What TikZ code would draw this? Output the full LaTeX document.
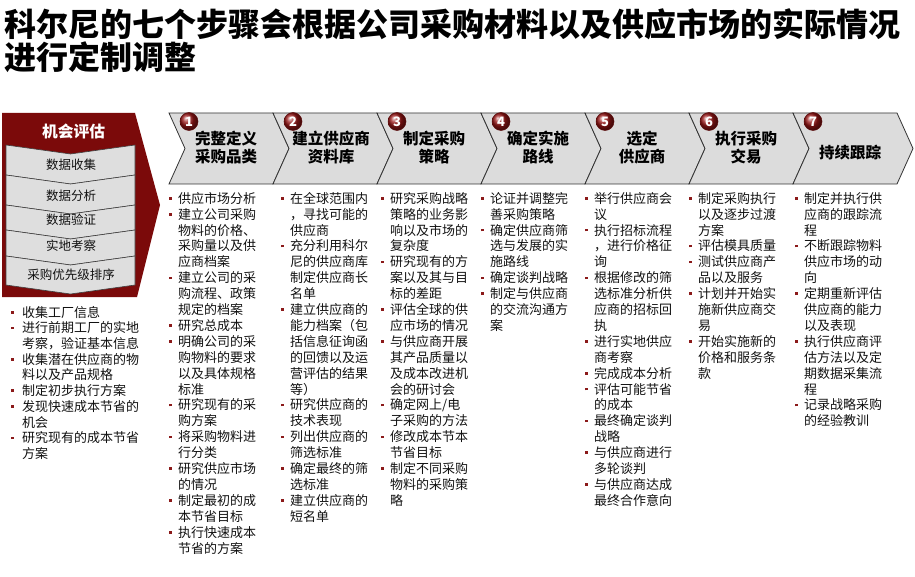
\documentclass[tikz,border=0pt]{standalone}
\usepackage{fontspec}
\setmainfont{Noto Sans CJK SC}
\definecolor{panelred}{HTML}{7B0A0A}
\definecolor{chevgray}{HTML}{DCDCDC}
\definecolor{bandgray}{HTML}{DEDEDE}
\definecolor{bulred}{HTML}{8B1A1A}
\definecolor{numred}{HTML}{9A1616}
\definecolor{txt}{HTML}{111111}
\newcommand\st[1]{\rule{0pt}{#1}}
\newcommand\bpt{\makebox[9pt][l]{\textcolor{bulred}{\rule[3.6pt]{2.6pt}{2.6pt}}}\st{11.5pt}}
\newcommand\cpt{\hspace*{9pt}\st{11.5pt}}
\newcommand\bptL{\makebox[11pt][l]{\textcolor{bulred}{\rule[3.6pt]{2.6pt}{2.6pt}}}\st{11.5pt}}
\newcommand\cptL{\hspace*{11pt}\st{11.5pt}}
\begin{document}
\begin{tikzpicture}[x=1pt,y=-1pt,
  chev/.style={fill=chevgray, draw=black!80, line width=0.8pt, line join=miter},
  band/.style={fill=bandgray, draw=black!75, line width=0.6pt},
  numball/.style={circle, shading=ball, ball color=numred, draw=numred!60!black, line width=0.5pt, text=white,
    font=\bfseries\fontsize{13}{13}\selectfont, inner sep=0pt, minimum size=18pt},
  steplabel/.style={anchor=north, align=center, inner sep=0pt, text=black,
    font=\bfseries\fontsize{15.5}{18}\selectfont},
  bandtext/.style={inner sep=0pt, text=txt, font=\fontsize{12.5}{14}\selectfont},
  col/.style={anchor=north west, align=left, inner sep=0pt, text=txt,
    font=\fontsize{13}{15.9}\selectfont},
  lcol/.style={col, font=\fontsize{13}{15.7}\selectfont}]
\useasboundingbox (0,0) rectangle (915,577);

% title
\node[anchor=north west, align=left, inner sep=0pt, text=black,
  font=\bfseries\fontsize{32}{33}\selectfont] (title) at (4,7.2)
  {\st{29pt}科尔尼的七个步骤会根据公司采购材料以及供应市场的实际情况\\进行定制调整};

% left panel
\fill[panelred] (2,113) -- (135,113) -- (160,205) -- (137,297) -- (2,297) -- cycle;
\node[text=white, inner sep=0pt, font=\bfseries\fontsize{15.75}{16}\selectfont] (ptitle) at (73.5,131.7) {机会评估};
\foreach \a/\b in {145/175,175/205,205/230,230/256,256/285}
  \draw[band] (6,\a) -- (70.5,\a+9) -- (135,\a) -- (135,\b) -- (70.5,\b+9) -- (6,\b) -- cycle;
\node[bandtext] (b1) at (71,165) {数据收集};
\node[bandtext] (b2) at (71,196) {数据分析};
\node[bandtext] (b3) at (71,220) {数据验证};
\node[bandtext] (b4) at (71,245.5) {实地考察};
\node[bandtext] (b5) at (71,275) {采购优先级排序};

% chevrons
\foreach \xo in {169,273,377,481,585,689,793}
  \draw[chev] (\xo,113) -- ++(104,0) -- ++(16,35.5) -- ++(-16,35.5) -- ++(-104,0) -- ++(16,-35.5) -- cycle;
\foreach \i/\xo in {1/169,2/273,3/377,4/481,5/585,6/689,7/793}
  \node[numball] (n\i) at (\xo+20,121.5) {\i};

\node[steplabel] (s1) at (226,130.4) {\st{13.5pt}完整定义\\采购品类};
\node[steplabel] (s2) at (331,130.4) {\st{13.5pt}建立供应商\\资料库};
\node[steplabel] (s3) at (434,130.4) {\st{13.5pt}制定采购\\策略};
\node[steplabel] (s4) at (538,130.4) {\st{13.5pt}确定实施\\路线};
\node[steplabel] (s5) at (642,130.4) {\st{13.5pt}选定\\供应商};
\node[steplabel] (s6) at (746,130.4) {\st{13.5pt}执行采购\\交易};
\node[inner sep=0pt, text=black, font=\bfseries\fontsize{15.5}{18}\selectfont] (s7) at (850,153) {持续跟踪};

% left bullet list
\node[lcol] (l0) at (11,305.4) {\bptL 收集工厂信息\\
\bptL 进行前期工厂的实地\\ \cptL 考察，验证基本信息\\
\bptL 收集潜在供应商的物\\ \cptL 料以及产品规格\\
\bptL 制定初步执行方案\\
\bptL 发现快速成本节省的\\ \cptL 机会\\
\bptL 研究现有的成本节省\\ \cptL 方案};

% column 1
\node[col] (c1) at (169,191.5) {\bpt 供应市场分析\\
\bpt 建立公司采购\\ \cpt 物料的价格、\\ \cpt 采购量以及供\\ \cpt 应商档案\\
\bpt 建立公司的采\\ \cpt 购流程、政策\\ \cpt 规定的档案\\
\bpt 研究总成本\\
\bpt 明确公司的采\\ \cpt 购物料的要求\\ \cpt 以及具体规格\\ \cpt 标准\\
\bpt 研究现有的采\\ \cpt 购方案\\
\bpt 将采购物料进\\ \cpt 行分类\\
\bpt 研究供应市场\\ \cpt 的情况\\
\bpt 制定最初的成\\ \cpt 本节省目标\\
\bpt 执行快速成本\\ \cpt 节省的方案};

% column 2
\node[col] (c2) at (281,191.5) {\bpt 在全球范围内\\ \cpt ，寻找可能的\\ \cpt 供应商\\
\bpt 充分利用科尔\\ \cpt 尼的供应商库\\ \cpt 制定供应商长\\ \cpt 名单\\
\bpt 建立供应商的\\ \cpt 能力档案（包\\ \cpt 括信息征询函\\ \cpt 的回馈以及运\\ \cpt 营评估的结果\\ \cpt 等）\\
\bpt 研究供应商的\\ \cpt 技术表现\\
\bpt 列出供应商的\\ \cpt 筛选标准\\
\bpt 确定最终的筛\\ \cpt 选标准\\
\bpt 建立供应商的\\ \cpt 短名单};

% column 3
\node[col] (c3) at (381,191.5) {\bpt 研究采购战略\\ \cpt 策略的业务影\\ \cpt 响以及市场的\\ \cpt 复杂度\\
\bpt 研究现有的方\\ \cpt 案以及其与目\\ \cpt 标的差距\\
\bpt 评估全球的供\\ \cpt 应市场的情况\\
\bpt 与供应商开展\\ \cpt 其产品质量以\\ \cpt 及成本改进机\\ \cpt 会的研讨会\\
\bpt 确定网上/电\\ \cpt 子采购的方法\\
\bpt 修改成本节本\\ \cpt 节省目标\\
\bpt 制定不同采购\\ \cpt 物料的采购策\\ \cpt 略};

% column 4
\node[col] (c4) at (481,191.5) {\bpt 论证并调整完\\ \cpt 善采购策略\\
\bpt 确定供应商筛\\ \cpt 选与发展的实\\ \cpt 施路线\\
\bpt 确定谈判战略\\
\bpt 制定与供应商\\ \cpt 的交流沟通方\\ \cpt 案};

% column 5
\node[col] (c5) at (585,191.5) {\bpt 举行供应商会\\ \cpt 议\\
\bpt 执行招标流程\\ \cpt ，进行价格征\\ \cpt 询\\
\bpt 根据修改的筛\\ \cpt 选标准分析供\\ \cpt 应商的招标回\\ \cpt 执\\
\bpt 进行实地供应\\ \cpt 商考察\\
\bpt 完成成本分析\\
\bpt 评估可能节省\\ \cpt 的成本\\
\bpt 最终确定谈判\\ \cpt 战略\\
\bpt 与供应商进行\\ \cpt 多轮谈判\\
\bpt 与供应商达成\\ \cpt 最终合作意向};

% column 6
\node[col] (c6) at (689,191.5) {\bpt 制定采购执行\\ \cpt 以及逐步过渡\\ \cpt 方案\\
\bpt 评估模具质量\\
\bpt 测试供应商产\\ \cpt 品以及服务\\
\bpt 计划并开始实\\ \cpt 施新供应商交\\ \cpt 易\\
\bpt 开始实施新的\\ \cpt 价格和服务条\\ \cpt 款};

% column 7
\node[col] (c7) at (795,191.5) {\bpt 制定并执行供\\ \cpt 应商的跟踪流\\ \cpt 程\\
\bpt 不断跟踪物料\\ \cpt 供应市场的动\\ \cpt 向\\
\bpt 定期重新评估\\ \cpt 供应商的能力\\ \cpt 以及表现\\
\bpt 执行供应商评\\ \cpt 估方法以及定\\ \cpt 期数据采集流\\ \cpt 程\\
\bpt 记录战略采购\\ \cpt 的经验教训};
\end{tikzpicture}
\end{document}
